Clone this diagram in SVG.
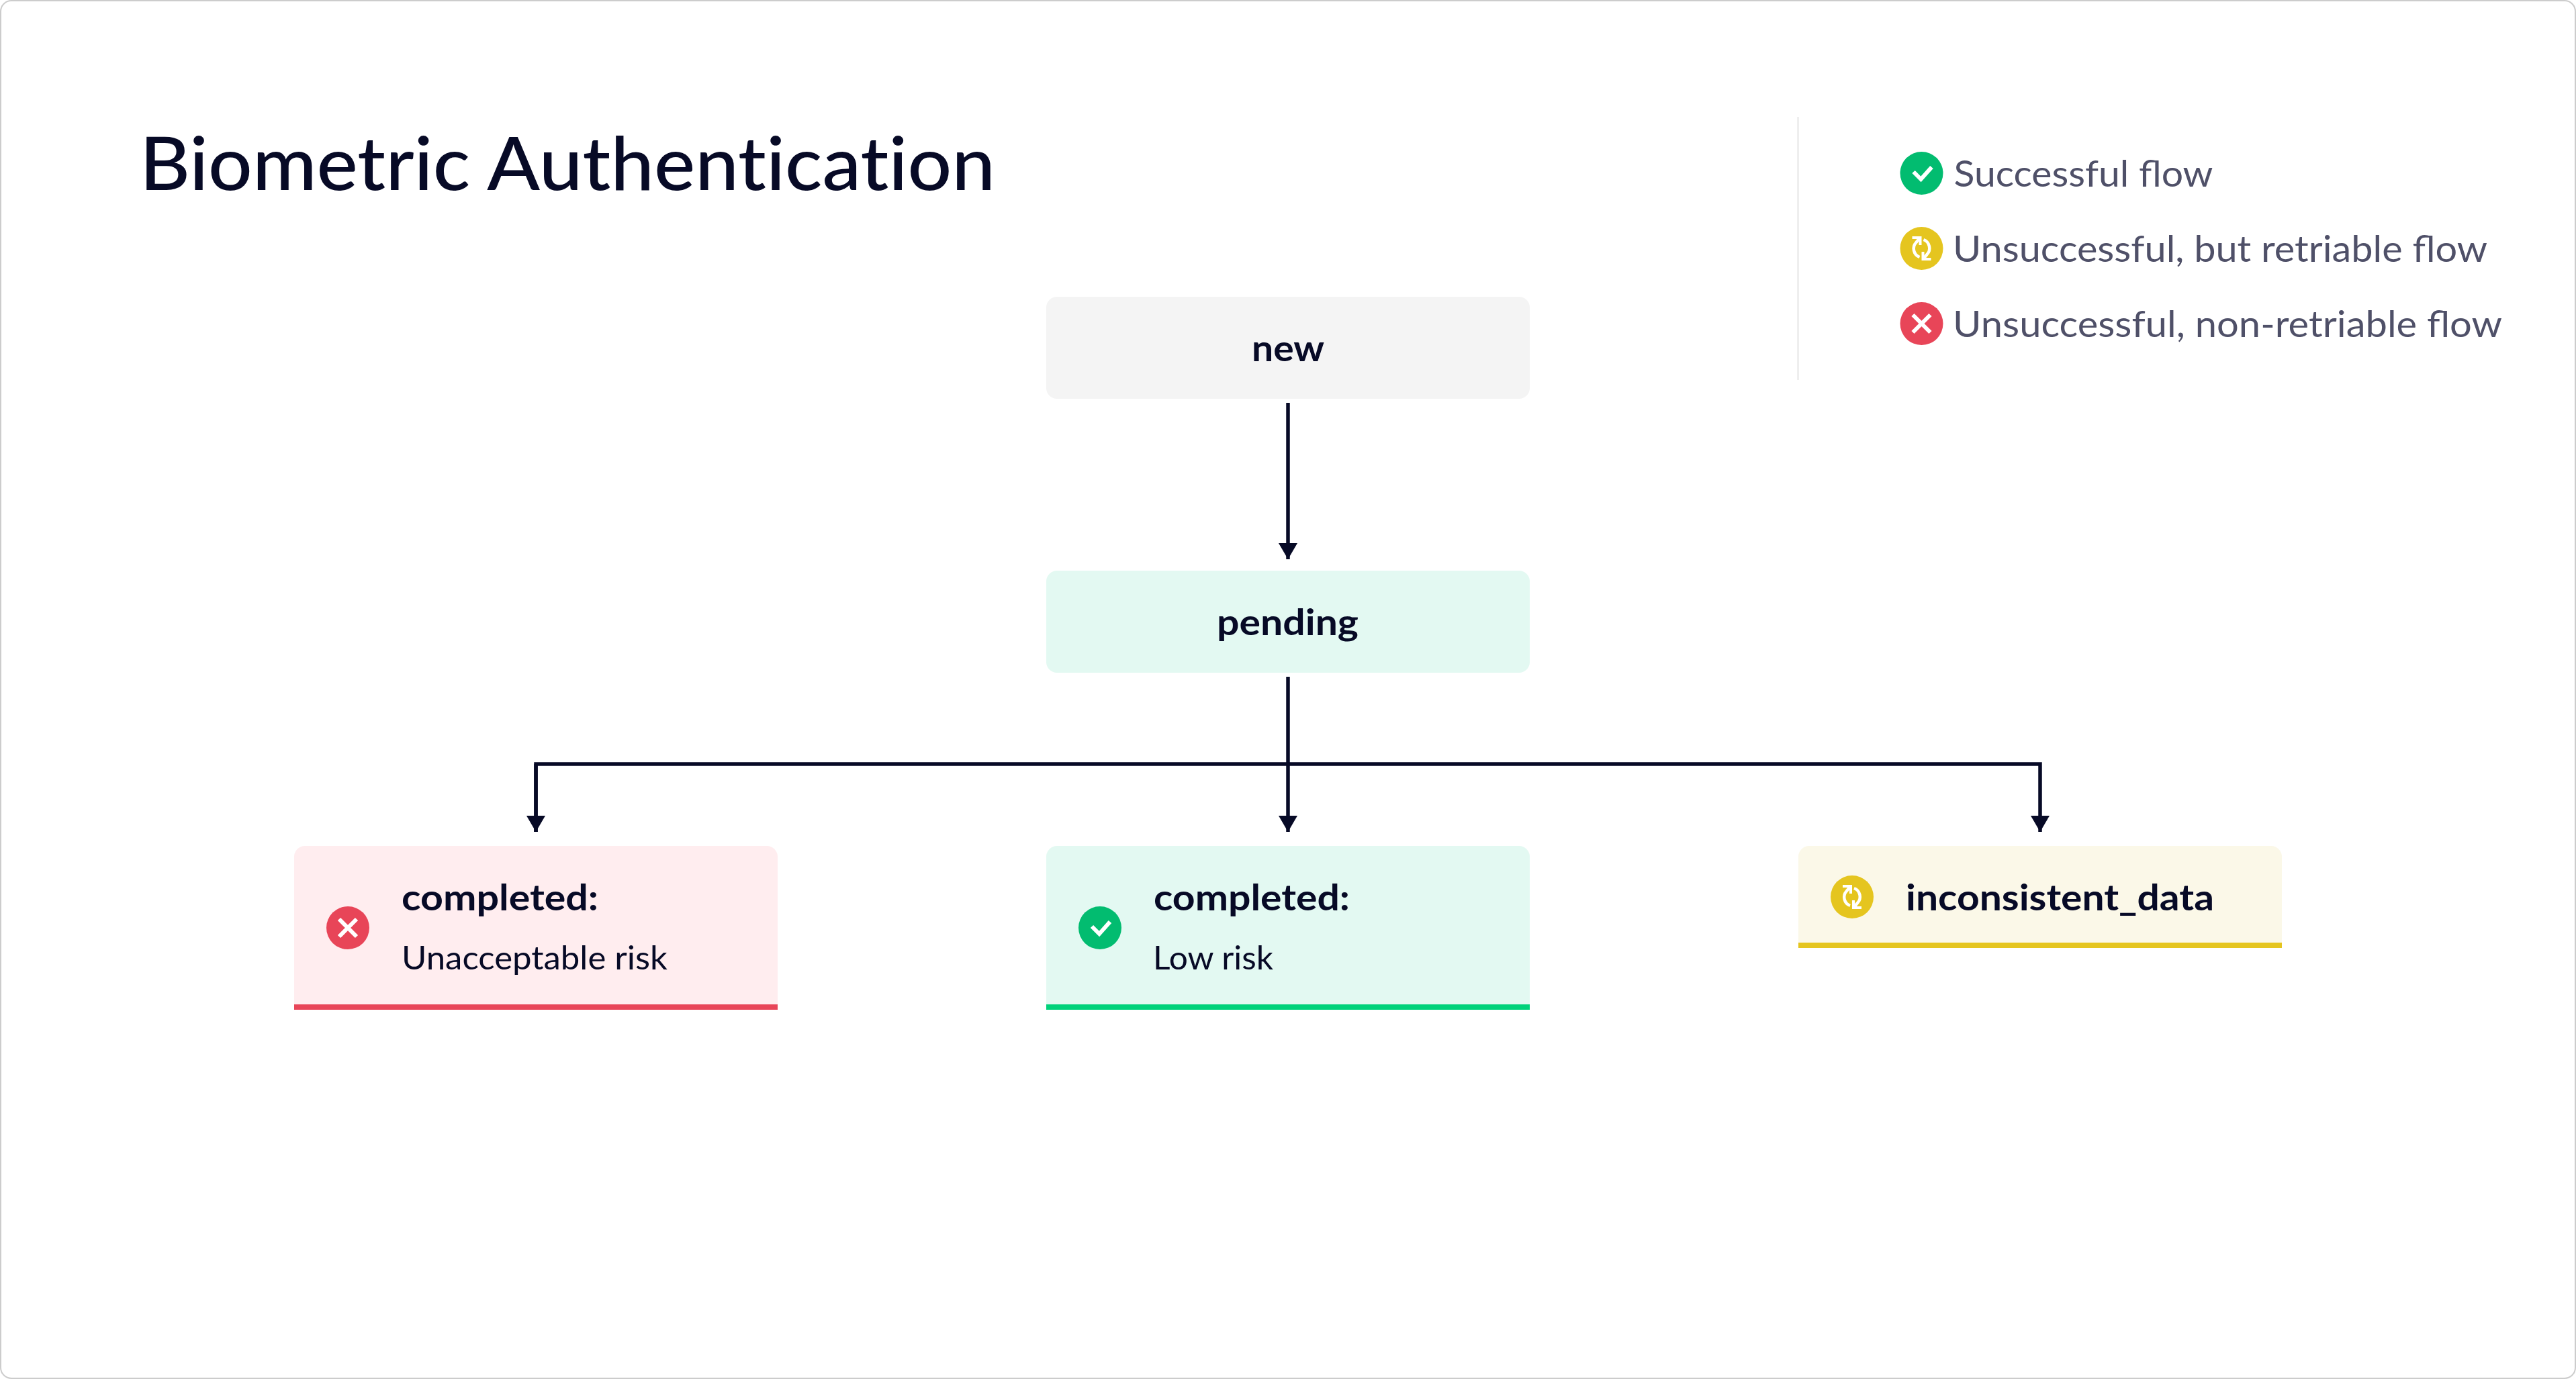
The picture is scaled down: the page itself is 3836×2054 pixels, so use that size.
<svg xmlns="http://www.w3.org/2000/svg" width="3836" height="2054" viewBox="0 0 3836 2054">
<style>
text{font-family:"Lato","Liberation Sans",sans-serif;fill:#070a26}
.b{font-size:54px;font-weight:700}
.r{font-size:48px;font-weight:400}
.l{font-size:54px;font-weight:400;fill:#4f5068}
.t{font-size:110px;font-weight:500;font-variant-ligatures:none}
.c{fill:none;stroke:#070a26;stroke-width:5.5}
.w{fill:none;stroke:#fff;stroke-width:6}
.a{fill:none;stroke:#fff;stroke-width:4.5}
</style>
<defs>
<marker id="a" markerUnits="userSpaceOnUse" markerWidth="24" markerHeight="28" refX="24" refY="14" orient="auto"><path d="M0 0L24 14L0 28Z" fill="#070a26"/></marker>
<g id="ok"><circle r="32" fill="#02bc70"/><path class="w" d="M-12-2L-1 9L15-9"/></g>
<g id="no"><circle r="32" fill="#e84558"/><path class="w" d="M-13-13L13 13M13-13L-13 13"/></g>
<g id="re"><circle r="32" fill="#e5c51f"/><path class="a" d="M-3-15L-8-9A13.5 13.5 0 0 0-3 13M3 15L8 9A13.5 13.5 0 0 0 3-13"/><path d="M-14-18H0V-5H-4V-14H-14ZM14 18H0V5H4V14H14Z" fill="#fff"/></g>
</defs>
<rect id="frame" x="1" y="1" width="3834" height="2052" rx="16" fill="#fff" stroke="#ccc" stroke-width="2"/>
<text class="t" x="208" y="283" textLength="1274" lengthAdjust="spacingAndGlyphs">Biometric Authentication</text>
<g id="legend">
<line x1="2677.5" y1="174" x2="2677.5" y2="566" stroke="#e6e6e6" stroke-width="2"/>
<use href="#ok" x="2861.5" y="258"/><text class="l" x="2909.5" y="278" textLength="386" lengthAdjust="spacingAndGlyphs">Successful flow</text>
<use href="#re" x="2861.5" y="370"/><text class="l" x="2908" y="390" textLength="796" lengthAdjust="spacingAndGlyphs">Unsuccessful, but retriable flow</text>
<use href="#no" x="2861.5" y="482"/><text class="l" x="2908" y="502" textLength="818" lengthAdjust="spacingAndGlyphs">Unsuccessful, non-retriable flow</text>
</g>
<g id="connectors">
<path class="c" d="M1918 600V833" marker-end="url(#a)"/>
<path class="c" d="M1918 1008V1239" marker-end="url(#a)"/>
<path class="c" d="M798 1239V1138H3038V1239" marker-end="url(#a)"/>
<path class="c" d="M798 1138V1239" marker-end="url(#a)"/>
</g>
<g id="node-new"><rect x="1558" y="442" width="720" height="152" rx="16" fill="#f4f4f4"/><text class="b" x="1864" y="538" textLength="108" lengthAdjust="spacingAndGlyphs">new</text></g>
<g id="node-pending"><rect x="1558" y="850" width="720" height="152" rx="16" fill="#e3f9f2"/><text class="b" x="1812" y="946" textLength="211" lengthAdjust="spacingAndGlyphs">pending</text></g>
<g id="node-risk">
<path d="M438 1504V1276a16 16 0 0 1 16-16H1142a16 16 0 0 1 16 16V1504Z" fill="#ffedef"/><rect x="438" y="1496" width="720" height="8" fill="#e84558"/>
<use href="#no" x="518" y="1382"/>
<text class="b" x="598" y="1356" textLength="293" lengthAdjust="spacingAndGlyphs">completed:</text>
<text class="r" x="598" y="1444" textLength="396" lengthAdjust="spacingAndGlyphs">Unacceptable risk</text>
</g>
<g id="node-low">
<path d="M1558 1504V1276a16 16 0 0 1 16-16H2262a16 16 0 0 1 16 16V1504Z" fill="#e3f9f2"/><rect x="1558" y="1496" width="720" height="8" fill="#00d27a"/>
<use href="#ok" x="1638" y="1382"/>
<text class="b" x="1718" y="1356" textLength="292" lengthAdjust="spacingAndGlyphs">completed:</text>
<text class="r" x="1717" y="1444" textLength="179" lengthAdjust="spacingAndGlyphs">Low risk</text>
</g>
<g id="node-inconsistent">
<path d="M2678 1412V1276a16 16 0 0 1 16-16H3382a16 16 0 0 1 16 16V1412Z" fill="#fbf8e8"/><rect x="2678" y="1404" width="720" height="8" fill="#e5c51f"/>
<use href="#re" x="2758" y="1336"/>
<text class="b" x="2838" y="1356" textLength="459" lengthAdjust="spacingAndGlyphs">inconsistent_data</text>
</g>
</svg>
